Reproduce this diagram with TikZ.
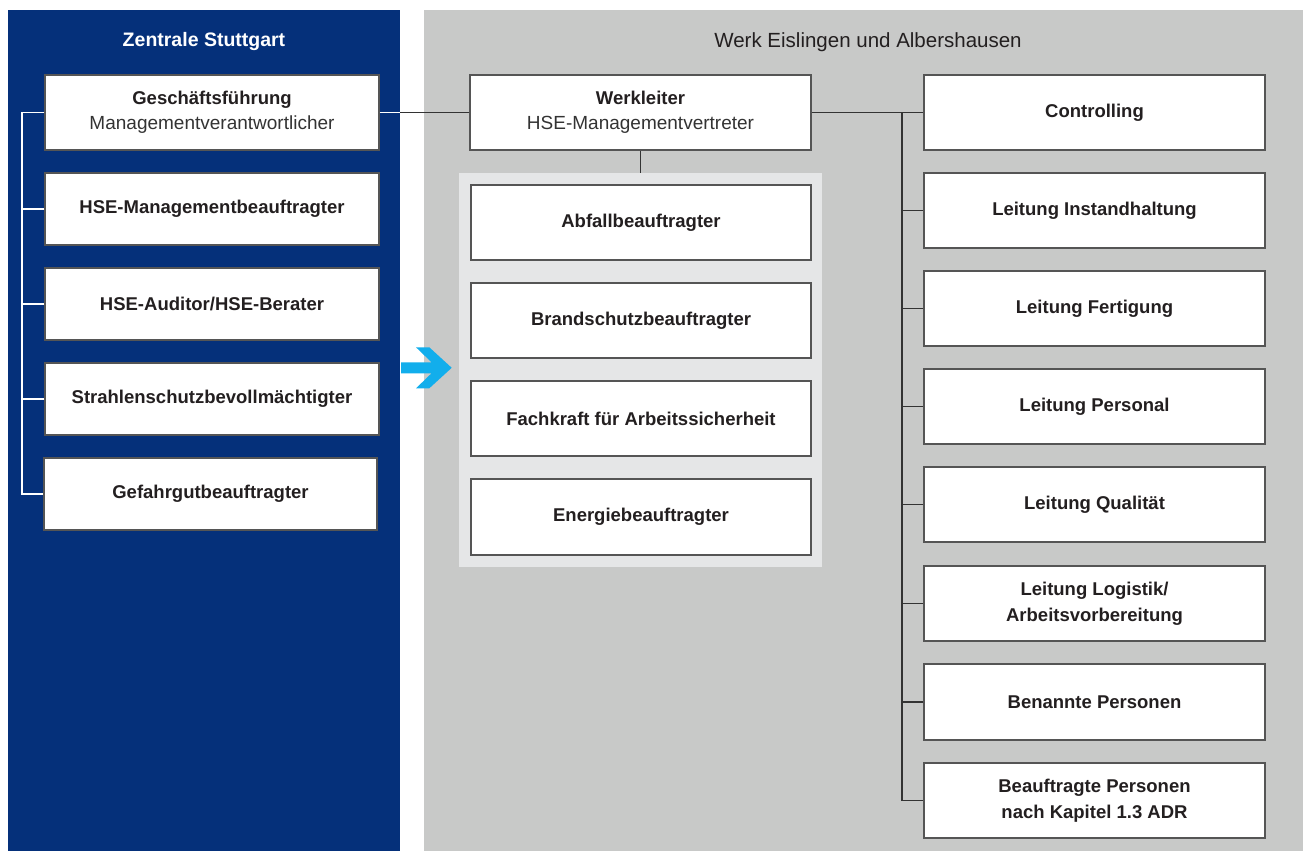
\documentclass[tikz,border=0pt]{standalone}
\usepackage{fontspec}
\setmainfont{Liberation Sans}
\definecolor{navy}{HTML}{05307A}
\definecolor{panelgrey}{HTML}{C8C9C8}
\definecolor{lightgrey}{HTML}{E5E6E7}
\definecolor{boxline}{HTML}{555555}
\definecolor{ink}{HTML}{231F20}
\definecolor{subink}{HTML}{333333}
\definecolor{arrowcyan}{HTML}{12AEEC}
\newcommand\fsz[1]{\fontsize{#1}{26}\selectfont}
\begin{document}
\begin{tikzpicture}[x=1pt,y=-1pt,
  box/.style={draw=boxline, line width=1.3pt, fill=white, minimum height=75pt,
    inner sep=0pt, align=center, text=ink, font=\fsz{18.5}\bfseries},
  lbox/.style={box, minimum width=334pt},
  mbox/.style={box, minimum width=340pt},
  rbox/.style={box, minimum width=341pt},
  sub/.style={},
  conn/.style={draw=subink, line width=1.3pt},
  wconn/.style={draw=white, line width=1.3pt},
  panel/.style={fill=lightgrey, inner sep=0pt, minimum width=363pt, minimum height=394pt}]
\useasboundingbox (0,0) rectangle (1303,851);
\fill[white] (0,0) rectangle (1303,851);
\fill[navy] (8,10) rectangle (400,851);
\fill[panelgrey] (424,10) rectangle (1303,851);

% headers
\node[text=white, font=\fsz{19.5}\bfseries] (hl) at (204,42) {Zentrale Stuttgart};
\node[text=ink, font=\fsz{20.5}] (hr) at (868,42) {Werk Eislingen und Albershausen};

% left column
\node[lbox] (gf) at (212,112.5) {Geschäftsführung\\[-1pt]{\mdseries\fsz{19}\color{subink}Managementverantwortlicher}};
\node[lbox, minimum height=72pt] (hm) at (212,209) {HSE-Managementbeauftragter};
\node[lbox, minimum height=72pt] (ha) at (212,304) {HSE-Auditor/HSE-Berater};
\node[lbox, minimum height=72pt] (sb) at (212,399) {Strahlenschutzbevollmächtigter};
\node[lbox, minimum height=72pt, minimum width=333pt] (gg) at (210.5,494) {Gefahrgutbeauftragter};

\coordinate (lt) at (22,112.5);
\draw[wconn] (gf.west) -- (lt) |- (gg.west);
\foreach \n in {hm,ha,sb} \draw[wconn] (\n.west) -- (lt |- \n.west);

% middle
\node[panel] (pn) at (640.5,370) {};
\node[mbox, minimum width=341pt] (wl) at (640.5,112.5) {Werkleiter\\[-1pt]{\mdseries\fsz{19}\color{subink}HSE-Managementvertreter}};
\node[mbox] (m1) at (641,222.5) {Abfallbeauftragter};
\node[mbox] (m2) at (641,320.5) {Brandschutzbeauftragter};
\node[mbox] (m3) at (641,418.5) {Fachkraft für Arbeitssicherheit};
\node[mbox, minimum height=76pt] (m4) at (641,517) {Energiebeauftragter};
\draw[conn] (wl.south) -- (pn.north);

% link Geschäftsführung -- Werkleiter
\coordinate (be) at (400,112.5);
\draw[conn] (gf.east) -- (wl.west);
\draw[wconn] (gf.east) -- (be);

% right column
\node[rbox] (r1) at (1094.5,112.5) {Controlling};
\node[rbox] (r2) at (1094.5,210.5) {Leitung Instandhaltung};
\node[rbox] (r3) at (1094.5,308.5) {Leitung Fertigung};
\node[rbox] (r4) at (1094.5,406.5) {Leitung Personal};
\node[rbox] (r5) at (1094.5,504.5) {Leitung Qualität};
\node[rbox] (r6) at (1094.5,603.5) {Leitung Logistik/\\Arbeitsvorbereitung};
\node[rbox, minimum height=76pt] (r7) at (1094.5,702) {Benannte Personen};
\node[rbox] (r8) at (1094.5,800.5) {Beauftragte Personen\\nach Kapitel 1.3 ADR};

\coordinate (rt) at (902,112.5);
\draw[conn] (wl.east) -- (r1.west);
\draw[conn] (rt) |- (r8.west);
\foreach \n in {r2,r3,r4,r5,r6,r7} \draw[conn] (\n.west) -- (rt |- \n.west);

% cyan arrow
\fill[arrowcyan] (401,362.3) -- (431.5,362.3) -- (416,347.3) -- (429.3,347.3) -- (451.7,367.8)
  -- (429.3,388.3) -- (416,388.3) -- (431.5,373.3) -- (401,373.3) -- cycle;
\end{tikzpicture}
\end{document}
